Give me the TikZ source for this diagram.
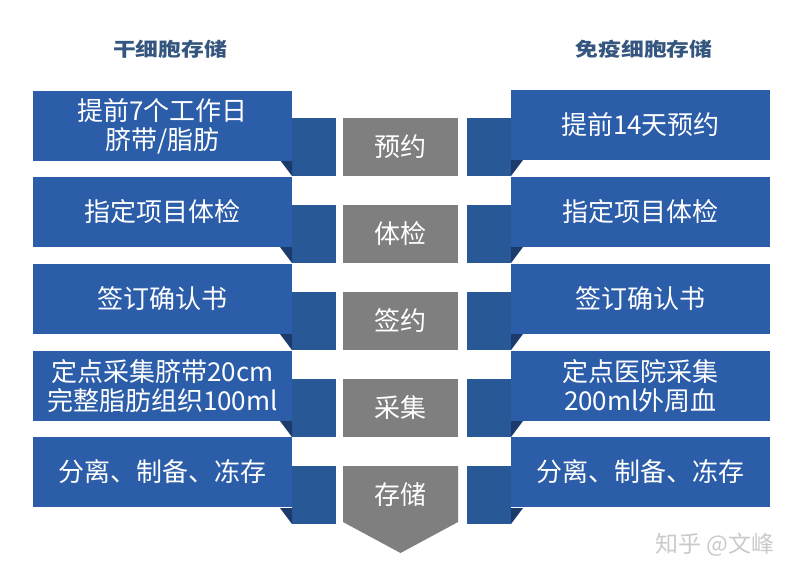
\documentclass[tikz,border=0pt]{standalone}
\usepackage{fontspec}
\setmainfont{Noto Sans CJK SC}
\newfontfamily\titlefont[FakeStretch=1.2]{Noto Sans CJK SC}
\definecolor{boxblue}{HTML}{2B5DA9}
\definecolor{tabblue}{HTML}{285896}
\definecolor{foldblue}{HTML}{1A3B6B}
\definecolor{stepgrey}{HTML}{7F7F7F}
\definecolor{titleblue}{HTML}{35567E}
\definecolor{wmgrey}{HTML}{CACACA}
\tikzset{
  infobox/.style={fill=boxblue, text=white, minimum width=259pt, minimum height=70pt, inner sep=0pt, align=center, font=\fontsize{26}{29}\selectfont},
  tabbox/.style={fill=tabblue},
  fold/.style={fill=foldblue},
  greybox/.style={fill=stepgrey, text=white, minimum width=115pt, minimum height=58pt, inner sep=0pt, font=\fontsize{26}{29}\selectfont},
  coltitle/.style={text=titleblue, font=\titlefont\fontsize{19}{23}\selectfont\bfseries},
}
\begin{document}
\begin{tikzpicture}[x=1pt,y=-1pt]
\useasboundingbox (0,0) rectangle (800,579);
\fill[white] (0,0) rectangle (800,579);

% titles
\node[coltitle] (tl) at (170,49) {干细胞存储};
\node[coltitle] (tr) at (644,49) {免疫细胞存储};

% tabs and folds for each row
\foreach \i in {0,...,4}{
  \pgfmathsetmacro{\yy}{90+87*\i}
  \fill[tabbox] (292,\yy+28) rectangle (336,\yy+86);
  \fill[fold] (280,\yy+70) -- (292,\yy+70) -- (292,\yy+86) -- cycle;
  \fill[tabbox] (467,\yy+28) rectangle (511,\yy+86);
  \fill[fold] (523,\yy+70) -- (511,\yy+70) -- (511,\yy+86) -- cycle;
}

% left boxes
\node[infobox] (L1) at (162.5,126) {提前7个工作日\\脐带/脂肪};
\node[infobox] (L2) at (162.5,212) {指定项目体检};
\node[infobox] (L3) at (162.5,299) {签订确认书};
\node[infobox] (L4) at (162.5,386) {定点采集脐带20cm\\完整脂肪组织100ml};
\node[infobox] (L5) at (162.5,472) {分离、制备、冻存};

% right boxes
\node[infobox] (R1) at (640.5,125) {提前14天预约};
\node[infobox] (R2) at (640.5,212) {指定项目体检};
\node[infobox] (R3) at (640.5,299) {签订确认书};
\node[infobox] (R4) at (640.5,386) {定点医院采集\\200ml外周血};
\node[infobox] (R5) at (640.5,472) {分离、制备、冻存};

% center steps
\node[greybox] (G1) at (400.5,147) {预约};
\node[greybox] (G2) at (400.5,234) {体检};
\node[greybox] (G3) at (400.5,321) {签约};
\node[greybox] (G4) at (400.5,408) {采集};
\fill[stepgrey] (343,466) -- (458,466) -- (458,522) -- (400.5,553) -- (343,522) -- cycle;
\node[text=white, font=\fontsize{26}{29}\selectfont, inner sep=0pt] (G5) at (400.5,495) {存储};

% watermark
\node[text=wmgrey, font=\fontsize{23}{26}\selectfont, inner sep=0pt] (wm) at (715,545) {知乎 @文峰};
\end{tikzpicture}
\end{document}
